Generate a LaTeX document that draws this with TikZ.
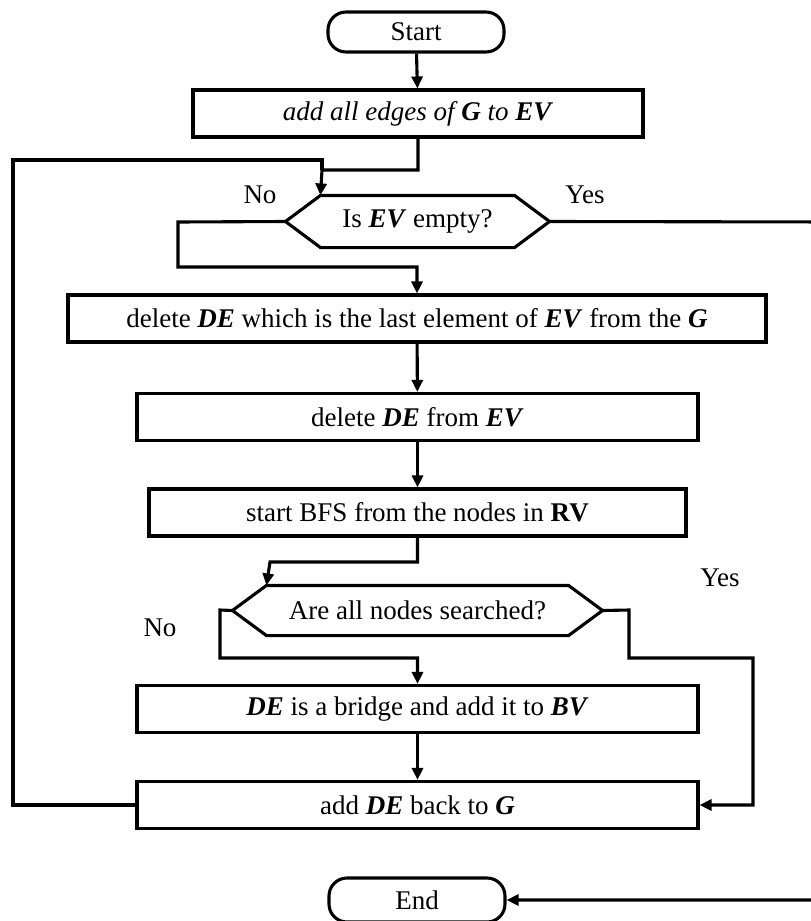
\documentclass[tikz,border=0pt]{standalone}
\usepackage{fontspec}
\setmainfont{Liberation Serif}
\usetikzlibrary{arrows.meta}
% outline of a hexagonal decision box around node #1, with horizontal cut #2
\newcommand{\hexoutline}[2]{%
  \draw (#1.west) -- ([xshift=#2]#1.north west) -- ([xshift=-#2]#1.north east)
     -- (#1.east) -- ([xshift=-#2]#1.south east) -- ([xshift=#2]#1.south west) -- cycle;}
\begin{document}
\begin{tikzpicture}[x=1pt,y=-1pt,
  line width=3.1pt, line join=miter,
  every node/.style={font=\fontsize{27}{32}\selectfont, inner sep=0pt},
  proc/.style={draw, rectangle, minimum height=47pt},
  term/.style={draw, rounded corners=18pt, minimum width=176pt, minimum height=40pt},
  decision/.style={rectangle, minimum height=48pt},
  flow/.style={-{Triangle[length=12pt,width=11pt]}},
  answer/.style={}
]
\useasboundingbox (0,0) rectangle (811,921);
\clip (0,0) rectangle (811,921);

% terminals and process steps
\node[term] (start) at (416,32) {Start};
\node[proc, minimum width=450pt] (b1) at (418,113.5) {\textit{add all edges of \textbf{G} to \textbf{EV}}};
\node[proc, minimum width=698pt] (b2) at (417,318.5) {delete \textbf{\textit{DE}} which is the last element of \textbf{\textit{EV}} from the \textbf{\textit{G}}};
\node[proc, minimum width=561pt] (b3) at (417.5,417) {delete \textbf{\textit{DE}} from \textbf{\textit{EV}}};
\node[proc, minimum width=537pt] (b4) at (417.5,512.5) {start BFS from the nodes in \textbf{RV}};
\node[proc, minimum width=561pt] (b5) at (417.5,709) {\textbf{\textit{DE}} is a bridge and add it to \textbf{\textit{BV}}};
\node[proc, minimum width=561pt] (b6) at (417.5,805) {add \textbf{\textit{DE}} back to \textbf{\textit{G}}};
\node[term, minimum height=44pt] (end) at (417,900) {End};

% decisions
\node[decision, minimum width=261pt, minimum height=49pt] (d1) at (417.5,221.5) {Is \textbf{\textit{EV}} empty?};
\hexoutline{d1}{35pt}
\coordinate (d1tl) at ([xshift=35pt]d1.north west);
\node[decision, minimum width=367pt, minimum height=47pt] (d2) at (417.5,610.5) {Are all nodes searched?};
\hexoutline{d2}{34pt}
\coordinate (d2tl) at ([xshift=34pt]d2.north west);

% branch labels
\node[answer] (no1) at (260,195) {No};
\node[answer] (yes1) at (585,195) {Yes};
\node[answer] (no2) at (160,628) {No};
\node[answer] (yes2) at (720,578) {Yes};

% routing points
\coordinate (j1) at (322,170);
\coordinate (loop) at (13,160);
\coordinate (far) at (840,222);
\coordinate (n1) at (178,222);
\coordinate (n1b) at (178,267);
\coordinate (j2) at (270,562);
\coordinate (n2) at (220,610);
\coordinate (n2b) at (220,658);
\coordinate (y2) at (629,610);
\coordinate (y2b) at (629,658);
\coordinate (y2c) at (753,658);

% connectors
\draw[flow] (start) -- (b1);
\draw[flow] (b1.south) |- (j1) -- (d1tl);
\draw (b6.west) -| (loop) -- (loop -| j1) -- (j1);
\draw[flow] (d1.east) -- (far) |- (end.east);
\draw[flow] (d1.west) -- (n1) |- (b2.north |- n1b) -- (b2.north);
\draw[flow] (b2) -- (b3);
\draw[flow] (b3) -- (b4);
\draw[flow] (b4.south) |- (j2) -- (d2tl);
\draw[flow] (d2.west) -- (n2) |- (b5.north |- n2b) -- (b5.north);
\draw[flow] (d2.east) -- (y2) -- (y2b) -- (y2c) |- (b6.east);
\draw[flow] (b5) -- (b6);
\end{tikzpicture}
\end{document}
